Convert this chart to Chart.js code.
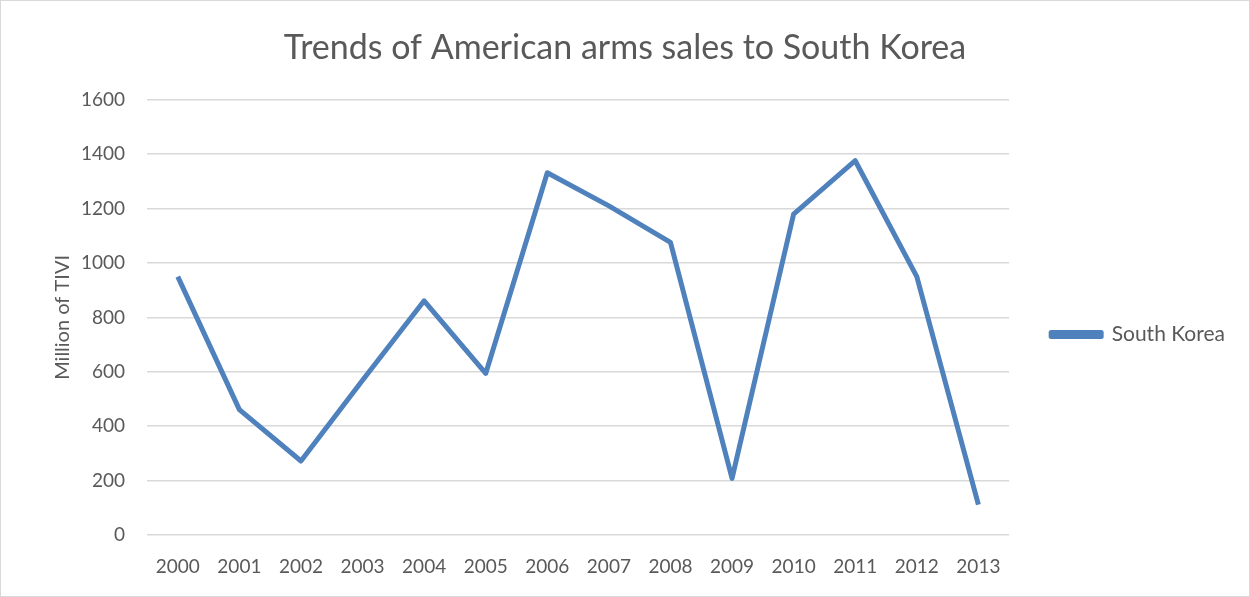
<!DOCTYPE html>
<html>
<head>
<meta charset="utf-8">
<script src="https://cdn.jsdelivr.net/npm/chart.js@4"></script>
<style>
  html, body { margin: 0; padding: 0; background: #fff; }
  #wrap { width: 1248px; height: 595px; border: 1px solid #d9d9d9; }
</style>
</head>
<body>
<div id="wrap"><canvas id="armsChart" width="1248" height="595"></canvas></div>
<script>
const years = ['2000', '2001', '2002', '2003', '2004', '2005', '2006', '2007', '2008', '2009', '2010', '2011', '2012', '2013']
const southKorea = [950, 461, 272, 569, 861, 594, 1332, 1210, 1076, 208, 1180, 1376, 950, 112]
const yTicks = [0, 200, 400, 600, 800, 1000, 1200, 1400, 1600]

const textColor = '#595959'
const lineColor = '#4f81bd'
const fontFamily = 'Lato, "Open Sans", sans-serif'

new Chart(document.getElementById('armsChart'), {
    type: 'line',
    data: {
        labels: years,
        datasets: [{
            label: 'South Korea',
            data: southKorea,
            borderColor: lineColor,
            backgroundColor: lineColor,
            borderWidth: 5,
            pointRadius: 0,
            tension: 0,
            borderJoinStyle: 'round'
        }]
    },
    options: {
        responsive: false,
        animation: false,
        layout: {
            // same padding both sides so the title stays centred on the canvas
            padding: { left: 14, right: 14, top: 0, bottom: 0 }
        },
        plugins: {
            title: {
                display: true,
                text: 'Trends of American arms sales to South Korea',
                color: textColor,
                font: { family: fontFamily, size: 34, weight: 'normal' },
                padding: { top: 27, bottom: 31 }
            },
            legend: {
                position: 'right',
                title: {
                    // empty title only pushes the entry down to match the reference
                    display: true,
                    text: ' ',
                    font: { family: fontFamily, size: 20 },
                    padding: { top: 0, bottom: 48 }
                },
                labels: {
                    color: textColor,
                    font: { family: fontFamily, size: 21 },
                    boxWidth: 50,
                    boxHeight: 4,
                    padding: 42
                }
            },
            tooltip: { enabled: false }
        },
        scales: {
            x: {
                offset: true,
                afterFit: (axis) => { axis.height = 61 },
                grid: { display: false, drawTicks: false },
                border: { display: false },
                ticks: {
                    color: textColor,
                    font: { family: fontFamily, size: 19 },
                    padding: 20,
                    maxRotation: 0
                }
            },
            y: {
                min: 0,
                max: 1600,
                afterBuildTicks: (axis) => {
                    axis.ticks = yTicks.map(v => ({ value: v }))
                },
                afterFit: (axis) => { axis.width = 132 },
                grid: { color: '#d9d9d9', lineWidth: 1.5, drawTicks: false },
                border: { display: false },
                ticks: {
                    color: textColor,
                    font: { family: fontFamily, size: 19 },
                    padding: 22,
                    callback: (v) => String(v)
                },
                title: {
                    display: true,
                    text: 'Million of TIVI',
                    color: textColor,
                    font: { family: fontFamily, size: 20 },
                    padding: { top: 36, bottom: 6 }
                }
            }
        }
    }
})
</script>
</body>
</html>
